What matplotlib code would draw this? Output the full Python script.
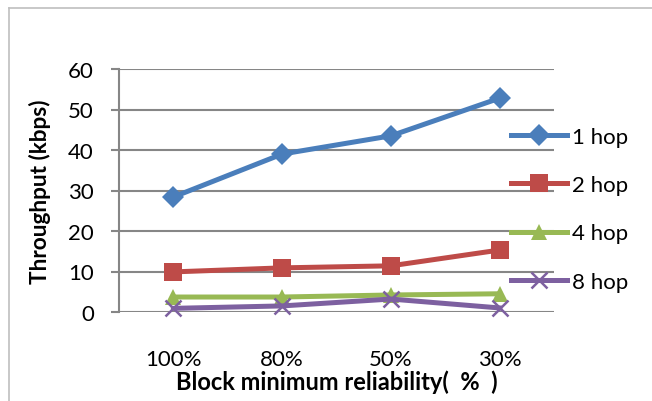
import numpy as np
import matplotlib
matplotlib.use("Agg")
import matplotlib.pyplot as plt
from matplotlib.lines import Line2D

# data
categories = ["100%", "80%", "50%", "30%"]
hop1 = [28.4, 39.0, 43.5, 52.8]
hop2 = [9.9, 10.9, 11.4, 15.3]
hop4 = [3.7, 3.7, 4.2, 4.5]
hop8 = [0.9, 1.5, 3.2, 1.0]
labels = ["1 hop", "2 hop", "4 hop", "8 hop"]

plt.rcParams['font.family'] = ['Lato', 'DejaVu Sans']

fig = plt.figure(figsize=(6.52, 4.02), dpi=100)
ax = fig.add_axes([119/652, 1-313/402, 435/652, 243/402])

x = np.arange(len(categories)) + 0.5
series = [hop1, hop2, hop4, hop8]
colors = ["#4A7EBB", "#BE4B48", "#98B954", "#7D60A0"]
markers = ["D", "s", "^", "x"]
msizes = [11, 13, 11, 12]
for vals, c, m, ms, lab in zip(series, colors, markers, msizes, labels):
    ax.plot(x, vals, color=c, lw=3.6, marker=m, ms=ms, mew=1.8 if m == "x" else 0,
            mec=c, label=lab, zorder=3, clip_on=False)

ax.set_xlim(0, 4)
ax.set_ylim(0, 60)
ax.set_yticks(np.arange(0, 61, 10))
ax.set_xticks(x)
ax.set_xticklabels(categories)
ax.yaxis.grid(True, color="#868686", lw=1.5)
ax.set_axisbelow(True)
for s in ["top", "right", "bottom"]:
    ax.spines[s].set_visible(False)
ax.spines["left"].set_color("#868686")
ax.spines["left"].set_linewidth(1.5)
ax.tick_params(axis="y", length=6, color="#868686", width=1.5, labelsize=16, pad=12)
ax.tick_params(axis="x", length=0, labelsize=16, pad=27)

ax.set_ylabel("Throughput (kbps)", fontsize=16.3, fontweight="bold", labelpad=12)
ax.set_xlabel("Block minimum reliability(  %  )", fontsize=17, fontweight="bold", labelpad=0)

handles = [Line2D([0], [0], color=c, lw=3.6, marker=m, ms=ms, mew=1.8 if m == "x" else 0, mec=c)
           for c, m, ms in zip(colors, markers, msizes)]
fig.legend(handles, labels, loc="upper left", bbox_to_anchor=(511/652, 1-128/402),
           frameon=False, fontsize=16, handlelength=2.5, labelspacing=1.27,
           handletextpad=0.25, borderaxespad=0, borderpad=0)

# outer chart border (only left/top edges are visible)
fig.add_artist(Line2D([9/652, 9/652], [0, 1-9/402], color="#BFBFBF", lw=1.2))
fig.add_artist(Line2D([9/652, 1], [1-9/402, 1-9/402], color="#BFBFBF", lw=1.2))

fig.savefig("out.png", dpi=100)
